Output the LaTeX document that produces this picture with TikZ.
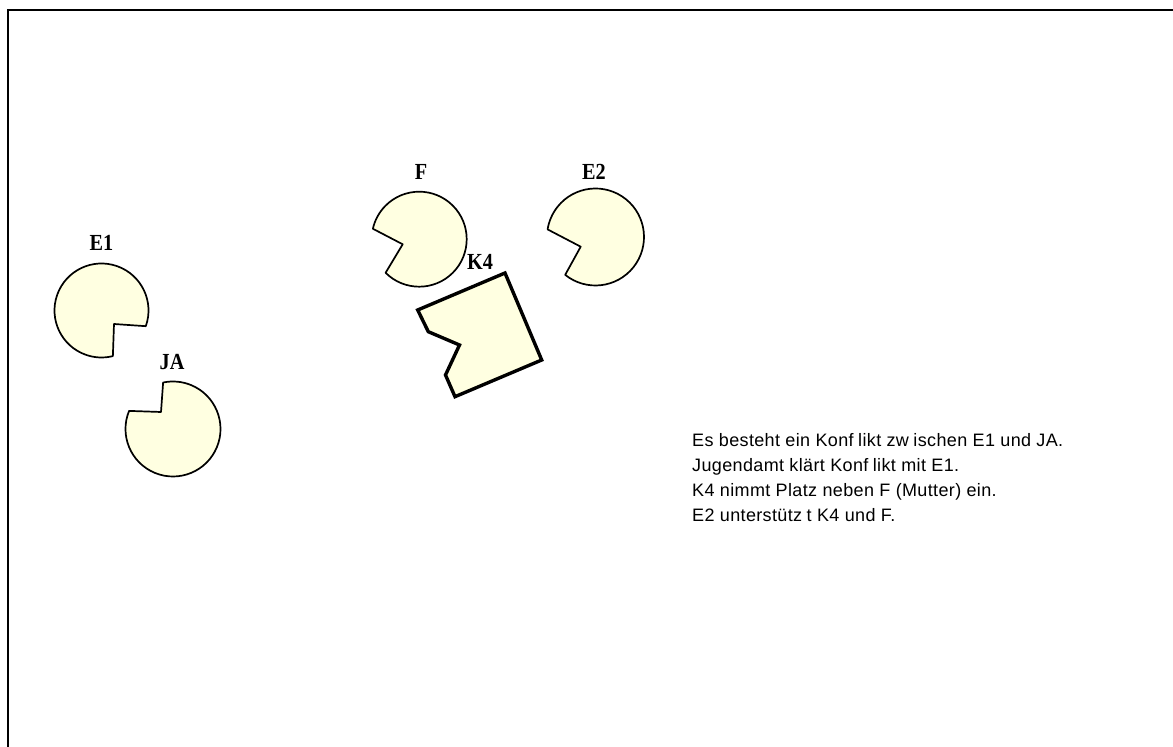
\documentclass[tikz,border=0pt]{standalone}
\usepackage{fontspec}
\setmainfont{Liberation Serif}
\newfontfamily\lblfont[FakeStretch=0.88]{Liberation Serif}
\newfontfamily\bodyfont[LetterSpace=2]{Liberation Sans}
\definecolor{pacfill}{RGB}{255,255,225}
\newcommand\gp{\kern4.5pt}
\tikzset{
  pac/.style={draw=black, line width=1.7pt, fill=pacfill, line join=round},
  kbox/.style={draw=black, line width=3.4pt, fill=pacfill, line join=miter},
  lbl/.style={font=\lblfont\fontsize{23}{26}\selectfont\bfseries, inner sep=0pt},
  txt/.style={font=\bodyfont\fontsize{18}{21}\selectfont, inner sep=0pt, anchor=base west}
}
\begin{document}
\begin{tikzpicture}[x=1pt,y=1pt]
\useasboundingbox (0,0) rectangle (1173,747);
% frame
\draw[line width=2pt] (7.7,0) -- (7.7,736.7) -- (1173,736.7);
% E1
\coordinate (e1c) at (101.5,436.5);
\coordinate (e1v) at (114,423);
\draw[pac] (e1v) -- ([shift={(-19.5:47pt)}]e1c) arc[start angle=-19.5, end angle=284, radius=47pt] -- cycle;
\node[lbl] (e1) at (101.5,504) {E1};
% JA
\coordinate (jac) at (173,318);
\coordinate (jav) at (161,335);
\draw[pac] (jav) -- ([shift={(157.6:47.5pt)}]jac) arc[start angle=157.6, end angle=462, radius=47.5pt] -- cycle;
\node[lbl] (ja) at (172,385) {JA};
% F
\coordinate (fc) at (419.2,507.8);
\coordinate (fv) at (402.7,502.7);
\draw[pac] (fv) -- ([shift={(225:47.5pt)}]fc) arc[start angle=225, end angle=527.3, radius=47.5pt] -- cycle;
\node[lbl] (f) at (421,575) {F};
% E2
\coordinate (e2c) at (595.5,510);
\coordinate (e2v) at (580.7,500.3);
\draw[pac] (e2v) -- ([shift={(231.3:48.5pt)}]e2c) arc[start angle=231.3, end angle=531, radius=48.5pt] -- cycle;
\node[lbl] (e2) at (594,575.5) {E2};
% K4
\draw[kbox] (505,474) -- (541.7,387) -- (455,350.3) -- (445.5,372) -- (459.5,402) -- (428.3,415.3) -- (417.7,437) -- cycle;
\node[lbl] (k4) at (480,485) {K4};
% text
\node[txt] (t1) at (692,300) {Es besteht ein Konf\gp likt zw\gp ischen E1 und JA.};
\node[txt] (t2) at (692,275) {Jugendamt klärt Konf\gp likt mit E1.};
\node[txt] (t3) at (692,250) {K4 nimmt Platz neben F (Mutter) ein.};
\node[txt] (t4) at (692,225) {E2 unterstütz\gp t K4 und F.};
\end{tikzpicture}
\end{document}
